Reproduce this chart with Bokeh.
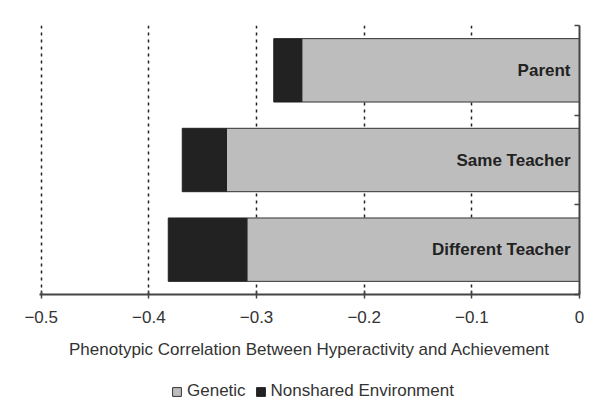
from bokeh.plotting import figure
from bokeh.layouts import column
from bokeh.models import (ColumnDataSource, FixedTicker, LinearAxis, Range1d,
                          Legend, LegendItem, CustomJSTickFormatter)
from bokeh.core.properties import value
from bokeh.embed import file_html
from bokeh.resources import INLINE

# ---- data ----
categories = ["Parent", "Same Teacher", "Different Teacher"]
genetic = [-0.258, -0.328, -0.309]
nonshared = [-0.026, -0.041, -0.073]
x_ticks = [-0.5, -0.4, -0.3, -0.2, -0.1, 0]
x_tick_labels = ["\u22120.5", "\u22120.4", "\u22120.3", "\u22120.2", "\u22120.1", "0"]
x_title = "Phenotypic Correlation Between Hyperactivity and Achievement"
legend_labels = ["Genetic", "Nonshared Environment"]

FONT = "Liberation Sans"
FS = "17px"
GEN_COLOR = "#bdbdbd"
NS_COLOR = "#222222"
n = len(categories)
ypos = [n - i - 0.5 for i in range(n)]
tot = [g + s for g, s in zip(genetic, nonshared)]
zeros = [0] * n

src = ColumnDataSource(dict(y=ypos, cat=categories, gen=genetic, tot=tot, zero=zeros))

p = figure(width=590, height=372, output_backend="svg", toolbar_location=None,
           x_range=Range1d(-0.5016, 0), y_range=Range1d(0, n),
           min_border_left=39, min_border_right=11, min_border_top=25,
           min_border_bottom=78,
           outline_line_color=None, background_fill_color="white",
           border_fill_color="white")
p.yaxis.visible = False
p.ygrid.visible = False

# bottom axis
ax = p.xaxis[0]
ax.ticker = FixedTicker(ticks=x_ticks)
ax.major_label_overrides = {t: l for t, l in zip(x_ticks, x_tick_labels)}
ax.minor_tick_line_color = None
ax.major_tick_in = 4
ax.major_tick_out = 4
ax.axis_line_width = 2
ax.axis_line_color = "#444444"
ax.major_tick_line_color = "#444444"
ax.major_tick_line_width = 1.5
ax.major_label_text_font = FONT
ax.major_label_text_font_size = FS
ax.major_label_text_color = "#333333"
ax.major_label_standoff = 12
ax.axis_label = x_title
ax.axis_label_text_font = FONT
ax.axis_label_text_font_size = FS
ax.axis_label_text_font_style = "normal"
ax.axis_label_text_color = "#333333"
ax.axis_label_standoff = 14

# grid
p.xgrid.ticker = FixedTicker(ticks=x_ticks)
p.xgrid.grid_line_color = "#222222"
p.xgrid.grid_line_dash = "3 4"
p.xgrid.grid_line_width = 1.5

# right axis (category separators)
rax = LinearAxis(ticker=FixedTicker(ticks=list(range(n + 1))),
                 formatter=CustomJSTickFormatter(code="return ''"))
rax.major_tick_in = 5
rax.major_tick_out = 0
rax.major_label_standoff = 0
rax.minor_tick_line_color = None
rax.axis_line_color = "#444444"
rax.axis_line_width = 2
rax.major_tick_line_color = "#444444"
rax.major_tick_line_width = 1.5
p.add_layout(rax, "right")

h = 0.707
p.hbar(y="y", left="gen", right="zero", height=h, source=src,
       fill_color=GEN_COLOR, line_color="#333333", line_width=1)
p.hbar(y="y", left="tot", right="gen", height=h, source=src,
       fill_color=NS_COLOR, line_color=NS_COLOR, line_width=1)

p.text(x="zero", y="y", text="cat", source=src, x_offset=-9,
       text_align="right", text_baseline="middle",
       text_font=value(FONT), text_font_size=FS, text_font_style="bold",
       text_color="#222222")

# legend strip (its own small figure, no axes)
lg = figure(width=590, height=34, output_backend="svg", toolbar_location=None,
            x_range=Range1d(0, 1), y_range=Range1d(0, 1),
            x_axis_type=None, y_axis_type=None,
            min_border_left=0, min_border_right=0, min_border_top=0,
            min_border_bottom=0, outline_line_color=None,
            background_fill_color="white", border_fill_color="white")
lg.grid.visible = False
# key swatches: one row each, kept outside the strip's visible range
key_src = ColumnDataSource(dict(y=[-5], l=[0], r=[0]))
g1 = lg.hbar(y="y", left="l", right="r", height=1, source=key_src,
             fill_color=GEN_COLOR, line_color="#333333", line_width=1)
g2 = lg.hbar(y="y", left="l", right="r", height=1, source=key_src,
             fill_color=NS_COLOR, line_color=NS_COLOR, line_width=1)
legend = Legend(items=[LegendItem(label=legend_labels[0], renderers=[g1]),
                       LegendItem(label=legend_labels[1], renderers=[g2])],
                orientation="horizontal", location=(132, 5),
                glyph_width=11, glyph_height=11, label_standoff=5, spacing=9,
                label_text_font=FONT, label_text_font_size=FS,
                label_text_color="#333333", border_line_color=None,
                background_fill_alpha=0, padding=2, margin=0)
lg.add_layout(legend, "center")

layout = column(p, lg, spacing=0)
open("out.html", "w").write(file_html(layout, INLINE))
